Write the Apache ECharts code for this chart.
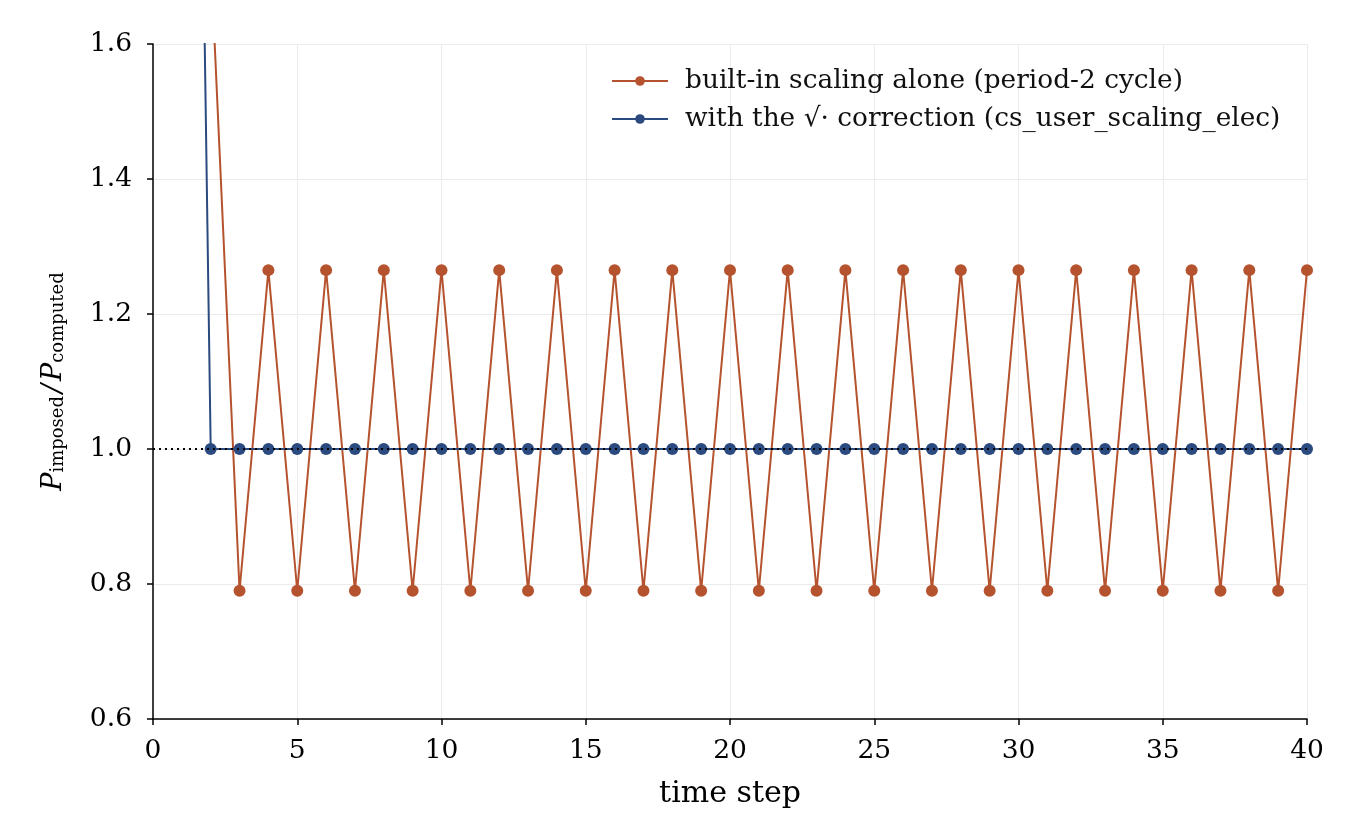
<!DOCTYPE html>
<html><head><meta charset="utf-8">
<script src="https://cdn.jsdelivr.net/npm/echarts@6/dist/echarts.min.js"></script>
<style>html,body{margin:0;padding:0;background:#fff}#c{width:1360px;height:840px}</style>
</head><body><div id="c"></div>
<script>
const builtinSteps = [2,3,4,5,6,7,8,9,10,11,12,13,14,15,16,17,18,19,20,21,22,23,24,25,26,27,28,29,30,31,32,33,34,35,36,37,38,39,40];
const builtinValues = [1.73,0.79,1.265,0.79,1.265,0.79,1.265,0.79,1.265,0.79,1.265,0.79,1.265,0.79,1.265,0.79,1.265,0.79,1.265,0.79,1.265,0.79,1.265,0.79,1.265,0.79,1.265,0.79,1.265,0.79,1.265,0.79,1.265,0.79,1.265,0.79,1.265,0.79,1.265];
const correctedSteps = [1,2,3,4,5,6,7,8,9,10,11,12,13,14,15,16,17,18,19,20,21,22,23,24,25,26,27,28,29,30,31,32,33,34,35,36,37,38,39,40];
const correctedValues = [3.9,1,1,1,1,1,1,1,1,1,1,1,1,1,1,1,1,1,1,1,1,1,1,1,1,1,1,1,1,1,1,1,1,1,1,1,1,1,1,1];
const refLine = [[0,1],[40,1]];
const seriesNames = ['built-in scaling alone (period-2 cycle)', 'with the \u221A\u00B7 correction (cs_user_scaling_elec)'];

const FONT = 'DejaVu Serif';
const ORANGE = '#b5532f';
const BLUE = '#2b4a7f';
const chart = echarts.init(document.getElementById('c'));
chart.setOption({
  animation: false,
  backgroundColor: '#fff',
  textStyle: {fontFamily: FONT, color: '#000'},
  grid: {left: 153, right: 53, top: 44, bottom: 121, containLabel: false},
  legend: {
    orient: 'vertical', left: 606, top: 63, itemWidth: 56, itemHeight: 12, itemGap: 12,
    textStyle: {fontFamily: FONT, fontSize: 26.4, lineHeight: 26, color: '#111', padding: [0,0,0,12]},
    data: seriesNames
  },
  xAxis: {
    type: 'value', min: 0, max: 40, interval: 5,
    name: 'time step', nameLocation: 'middle', nameGap: 60,
    nameTextStyle: {fontFamily: FONT, fontSize: 30, color: '#000'},
    axisLine: {lineStyle: {color: '#000', width: 1.5}},
    axisTick: {show: true, length: 6, lineStyle: {color: '#000', width: 1.5}},
    axisLabel: {fontFamily: FONT, fontSize: 26.5, color: '#000', margin: 19},
    splitLine: {show: true, lineStyle: {color: '#ebebeb', width: 1}}
  },
  yAxis: {
    type: 'value', min: 0.6, max: 1.6, interval: 0.2,
    name: '{p|P}{s|imposed}{sl|/}{p|P}{s|computed}', nameLocation: 'middle', nameGap: 86, nameRotate: 90,
    nameTextStyle: {
      fontFamily: FONT, color: '#000',
      rich: {
        p: {fontFamily: FONT, fontStyle: 'italic', fontSize: 27, verticalAlign: 'bottom', lineHeight: 30},
        s: {fontFamily: FONT, fontSize: 18, verticalAlign: 'bottom', lineHeight: 30, padding:[8,0,0,0]},
        sl: {fontFamily: FONT, fontStyle: 'italic', fontSize: 27, verticalAlign: 'bottom', lineHeight: 30, padding:[0,3,0,3]}
      }
    },
    axisLine: {show: true, lineStyle: {color: '#000', width: 1.5}},
    axisTick: {show: true, length: 6, lineStyle: {color: '#000', width: 1.5}},
    axisLabel: {fontFamily: FONT, fontSize: 26.5, color: '#000', margin: 21, formatter: v => v.toFixed(1)},
    splitLine: {show: true, lineStyle: {color: '#ebebeb', width: 1}}
  },
  series: [
    {
      name: seriesNames[0], type: 'line', clip: true,
      data: builtinSteps.map((t,i) => [t, builtinValues[i]]),
      symbol: 'circle', symbolSize: 12, color: ORANGE,
      lineStyle: {color: ORANGE, width: 2}, itemStyle: {color: ORANGE}, z: 2
    },
    {
      name: seriesNames[1], type: 'line', clip: true,
      data: correctedSteps.map((t,i) => [t, correctedValues[i]]),
      symbol: 'circle', symbolSize: 12, color: BLUE,
      lineStyle: {color: BLUE, width: 2}, itemStyle: {color: BLUE}, z: 3
    },
    {
      name: 'ref', type: 'line', data: refLine, symbol: 'none', silent: true,
      lineStyle: {color: '#000', width: 2, type: [2, 4]}, z: 10
    }
  ]
});
</script></body></html>
